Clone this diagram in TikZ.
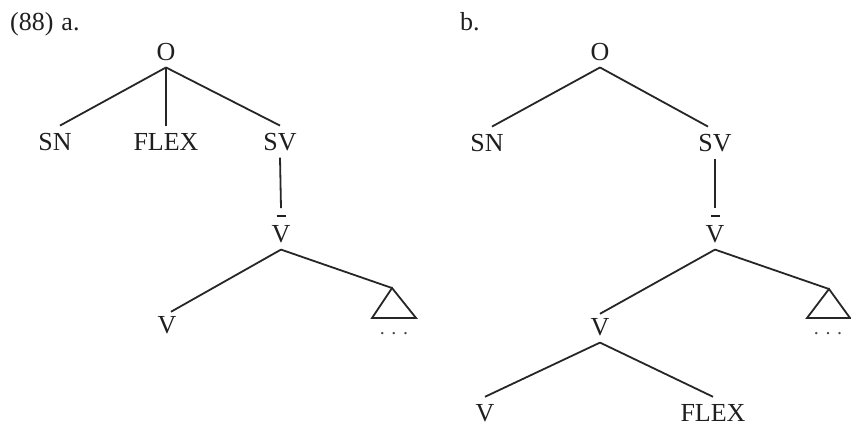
\documentclass[tikz,border=0pt]{standalone}
\usepackage{fontspec}
\setmainfont{Liberation Serif}
\begin{document}
\begin{tikzpicture}[x=1pt,y=-1pt,
  lab/.style={font=\fontsize{26}{30}\selectfont, inner xsep=0pt, inner ysep=7pt, anchor=base, text=black!88},
  edge/.style={draw=black!85, line width=1.8pt},
  dots/.style={font=\fontsize{20}{24}\selectfont, inner sep=0pt, anchor=base, text=black!70}]
\useasboundingbox (0,0) rectangle (851,428);
\newcommand{\vbarlabel}{\rlap{\hbox to 18.8pt{\hfil\rule[25pt]{9pt}{1.6pt}\hfil}}V}
% ---- tree a
\node[lab, anchor=base west] (numa) at (10,31) {(88)\hspace{8pt}a.};
\node[lab] (aO) at (166,60) {O};
\node[lab] (aSN) at (55,150) {SN};
\node[lab] (aFLEX) at (166,150) {FLEX};
\node[lab] (aSV) at (280,150) {SV};
\node[lab] (aVb) at (281,242) {\vbarlabel};
\node[lab] (aV) at (167,333) {V};
\coordinate (aT) at (392,288);
\coordinate (aTl) at (372,318);
\coordinate (aTr) at (416,318);
\node[dots] (aD) at (394,334) {.\,\,.\,\,.};
\draw[edge] (aO.south) -- ([xshift=5pt]aSN.north);
\draw[edge] (aO.south) -- (aFLEX.north);
\draw[edge] (aO.south) -- (aSV.north);
\draw[edge] (aSV.south) -- (aVb.north);
\draw[edge] (aVb.south) -- ([xshift=4pt,yshift=-3pt]aV.north);
\draw[edge] (aVb.south) -- (aT);
\draw[edge, line join=miter] (aT) -- (aTl) -- (aTr) -- cycle;
% ---- tree b
\node[lab, anchor=base west] (numb) at (460,31) {b.};
\node[lab] (bO) at (600,60) {O};
\node[lab] (bSN) at (487,151) {SN};
\node[lab] (bSV) at (715,151) {SV};
\node[lab] (bVb) at (715,242) {\vbarlabel};
\node[lab] (bV) at (600,335) {V};
\coordinate (bT) at (829,289);
\coordinate (bTl) at (807,318);
\coordinate (bTr) at (850,318);
\node[dots] (bD) at (828,334) {.\,\,.\,\,.};
\node[lab] (bV2) at (485,421) {V};
\node[lab] (bFLEX) at (713,421) {FLEX};
\draw[edge] (bO.south) -- ([xshift=5pt]bSN.north);
\draw[edge] (bO.south) -- ([xshift=-7pt]bSV.north);
\draw[edge] (bSV.south) -- (bVb.north);
\draw[edge] (bVb.south) -- ([yshift=-3pt]bV.north);
\draw[edge] (bVb.south) -- (bT);
\draw[edge, line join=miter] (bT) -- (bTl) -- (bTr) -- cycle;
\draw[edge] (bV.south) -- (bV2.north);
\draw[edge] (bV.south) -- (bFLEX.north);
\end{tikzpicture}
\end{document}
